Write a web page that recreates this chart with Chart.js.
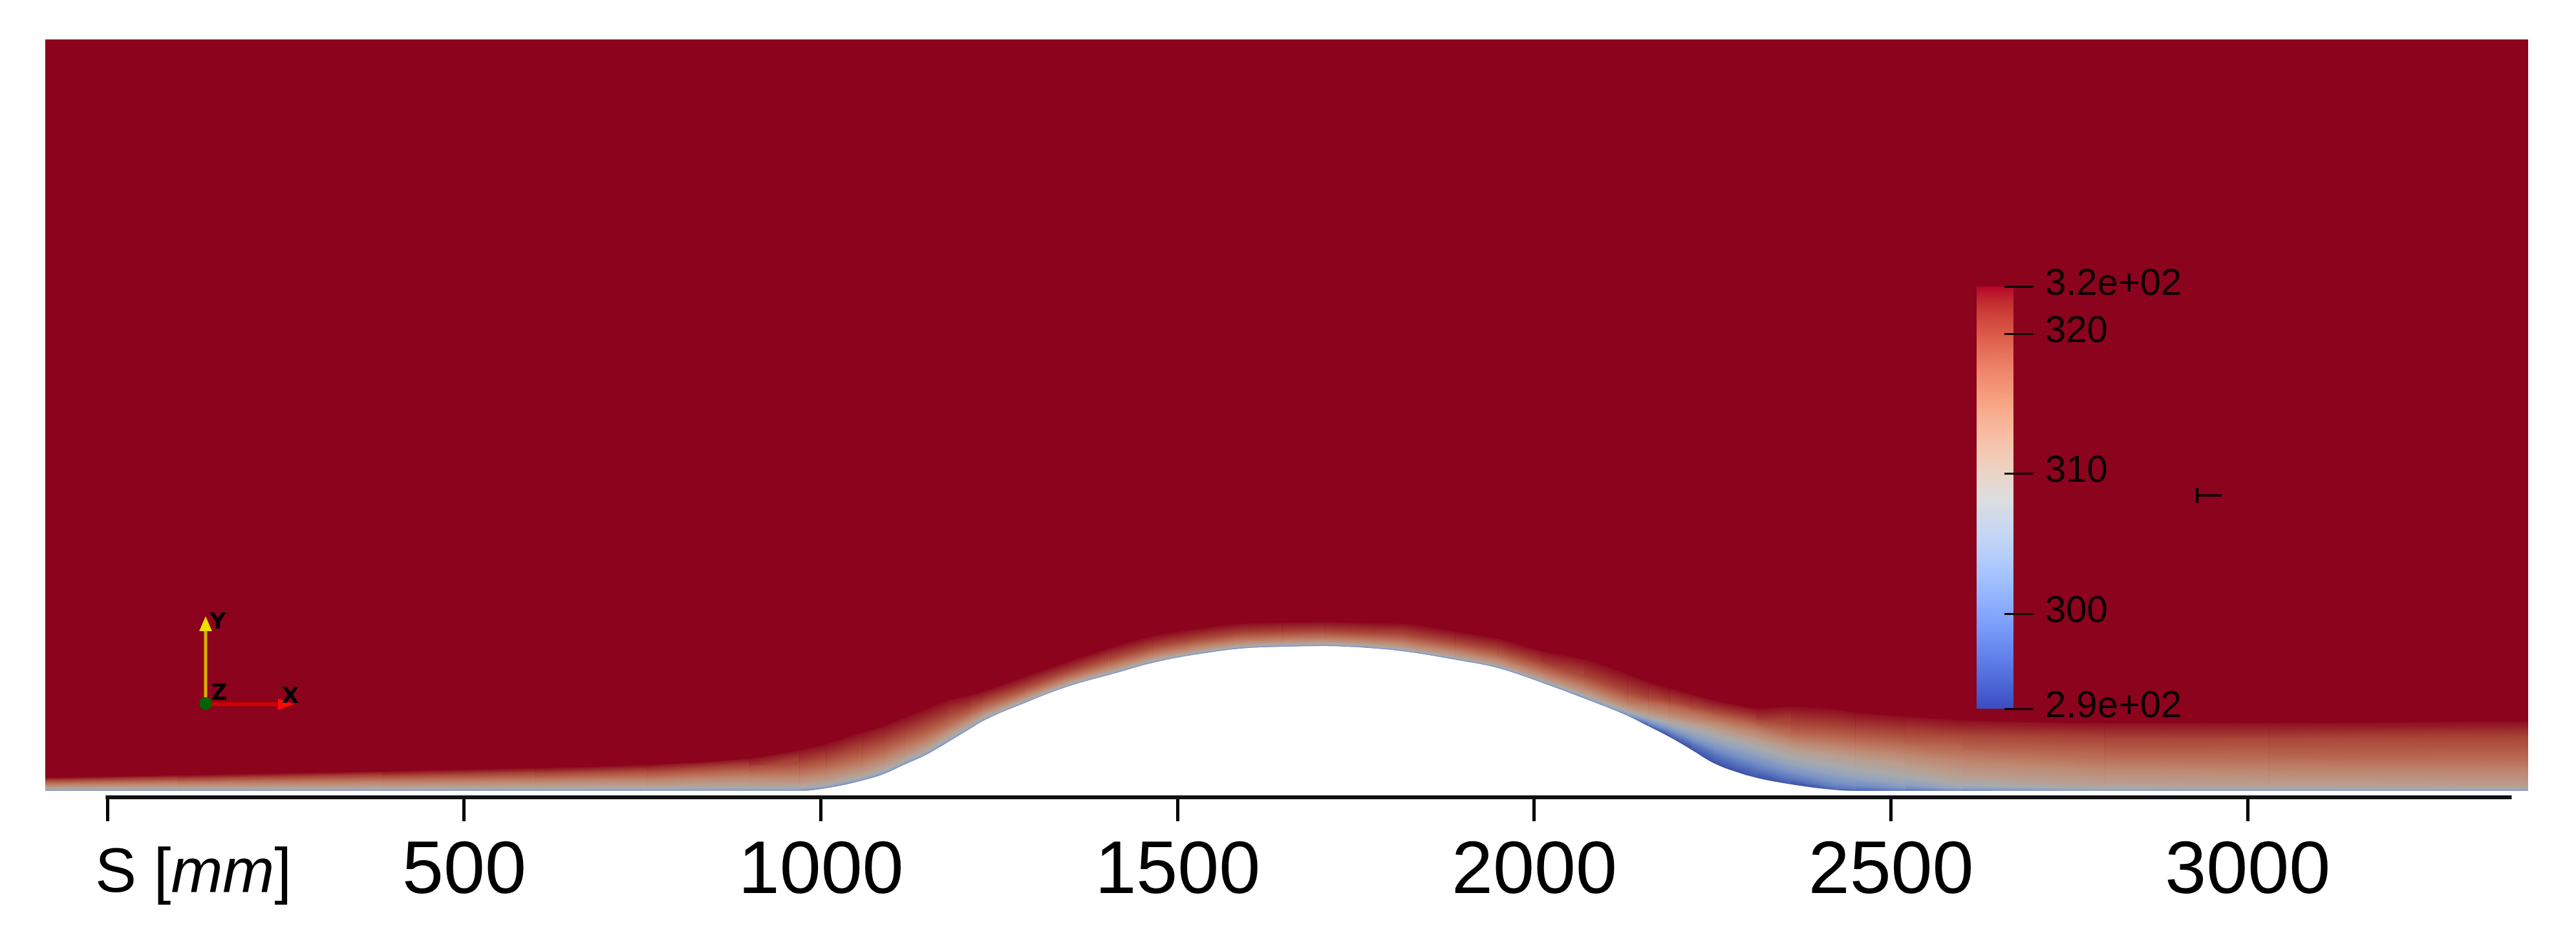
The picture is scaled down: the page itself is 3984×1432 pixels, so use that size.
<!DOCTYPE html>
<html><head><meta charset="utf-8">
<script src="https://cdn.jsdelivr.net/npm/chart.js@4.4.1/dist/chart.umd.min.js"></script>
<style>html,body{margin:0;padding:0;background:#fff;}canvas{display:block;}</style>
</head><body>
<canvas id="c" width="3984" height="1432"></canvas>
<script>
// ================= DATA =================
// Stations along the wall, S in mm
const stations = [-100,100,384,600,756,900,970,1007,1058,1088,1118,1148,1179,1209,1227,1286,1345,1406,1465,1526,1587,1647,1707,1768,1816,1889,1949,2009,2070,2131,2160,2190,2221,2251,2281,2312,2360,2426,2450,2520,2600,2800,3030,3410];
// Wall (hill) height at each station, mm
const wallHeight = [0,0,0,0,0,0,0,3.6,14.5,23.6,37.2,50.8,68.9,87.0,97.9,123.3,145.9,163.1,179.5,191.2,199.4,202.1,203.0,200.3,195.8,184.0,172.2,152.3,129.6,105.1,90.6,75.2,57.1,39.0,27.2,18.1,9.1,0.9,0,0,0,0,0,0];
// Isotherm levels (K) and their height above the wall at each station (mm)
const isoLevels = [296,299,302,305,308,311,314,317,320,323];
const iso296 = [0,0,0,0,0,0,0,0,0,0, 0,0,0,0,0,0,0,0,0,0, 0,0,0,0,0,0,0,0,0,0, 0.5,1.4,2.2,2.8,2.9,2,1,0,0,0, 0,0,0,0];
const iso299 = [0,0,0,0,0,0,0,0,0,0, 0,0,0,0,0,0,0,0,0,0, 0,0,0,0,0,0,0,0,0,0, 2.4,5.8,9.9,14,13.8,12.9,7.9,3.1,2,0.5, 0,0,0,0];
const iso302 = [0,0,0,0,0,0,0,0,0,0, 0,0,0,0,0,0,0,0,0,0, 0.45,0.45,0.45,0.45,0.45,0.45,0.45,0.45,0.45,0.9, 5.4,9.8,14.9,21,22.8,21.9,16.9,10.1,8,3.5, 0.9,0,0,0];
const iso305 = [1.4,1.4,1.4,1.4,1.4,1.4,1.8,1.8,1.8,1.8, 1.8,1.8,1.8,1.8,1.8,1.4,1.4,1.4,1.4,1.4, 1.4,1.4,1.4,1.4,1.4,1.4,1.4,1.4,1.8,2.7, 8.9,14.8,21.9,30,32.8,32.9,26.9,21.1,18,9, 3,1.4,1.4,1.4];
const iso308 = [2.3,2.3,2.7,3.2,3.6,4.1,4,4,4,4, 4,4,4,3.4,3.2,2.7,2.7,2.7,2.7,2.7, 2.7,2.7,2.7,2.7,2.7,2.7,2.7,2.7,3.6,5.4, 12.4,19.8,28.9,39,42.8,42.9,36.9,33.1,30,20, 8,3.2,2.7,2.7];
const iso311 = [4.1,4.5,5.4,6.3,7.2,9.1,9,9.5,10,10, 9.5,9,8.5,7.5,7,5.4,5,5,5,4.5, 4.5,4.5,4.5,4.5,4.5,4.5,4.5,4.5,6.3,9.1, 16.4,24.8,36.9,48,51.8,53.4,48.9,47.1,45,35, 20,10,8,7];
const iso314 = [7.7,9.1,10.9,12.7,14.5,18.1,18,19,20,20, 19,18,16.5,14,12,9.5,9,9.6,9.6,9.2, 9,8.7,8.7,9,10,10.2,10.6,11.3,13.5,15.4, 23.4,31.8,42.9,56,61.3,63.4,59.9,59.8,57.9,50.7, 39.9,30,27,25];
const iso317 = [10.9,13.1,15.9,18.1,20.8,26.3,28,30,31,31, 30,28,25,21,18.5,15,14.5,15.5,15.5,15, 14.5,14,14,14.5,16,16.5,17,18,21.5,23.6, 32.9,42.8,54.4,65.2,69.8,73.4,70.7,72.5,70.7,65.2, 58,48,46,45];
const iso320 = [14.5,17.2,21.3,24.5,28.1,35.3,40,43,46,46, 44,42,38,31,27.5,22.5,21.5,23,23,22, 21.5,21,21,21.5,24,24.5,25.5,27.5,32,34.4, 40.8,50.7,61.6,73.4,79.7,82.4,85.2,88.8,87,81.5, 78,73,74,75];
const iso323 = [18.1,21.7,27.2,31.7,36.2,45.3,57.1,61.6,67,67, 65.3,63.4,58,47,41,36.2,34.4,37.1,37.1,35.3, 34.4,33.5,33.5,34.4,38.1,39,40.8,43.5,54.4,58, 61.6,68,77.9,87.9,93.3,97,108.7,112.3,109.6,104.2, 98.8,95,95,97];
const wallT = 295;          // coldest wall value (lee side)
const freestreamT = 323.37; // outer flow
// Axis
const xTicks = [0,500,1000,1500,2000,2500,3000];
const xTickLabels = ['','500','1000','1500','2000','2500','3000'];
const axisExtent = [0,3370];
// Colour bar
const cbRange = [293.21,323.37];
const cbTickValues = [323.37,320,310,300,293.21];
const cbTickLabels = ['3.2e+02','320','310','300','2.9e+02'];
const cbTitle = 'T';

// ================= STYLE =================
const XMIN = -87.28, XMAX = 3393.1, YMIN = -6.34, YMAX = 1053.1;
const SHADE = 0.77;
const CW = [[59,76,192],[68,90,204],[77,104,215],[87,117,225],[98,130,234],[108,142,241],[119,154,247],[130,165,251],[141,176,254],[152,185,255],[163,194,255],[174,201,253],[184,208,249],[194,213,244],[204,217,238],[213,219,230],[221,221,221],[229,216,209],[236,211,197],[241,204,185],[245,196,173],[247,187,160],[247,177,148],[247,166,135],[244,154,123],[241,141,111],[236,127,99],[229,112,88],[222,96,77],[213,80,66],[203,62,56],[192,40,47],[180,4,38]];
function cmap(T){
  let t=(T-cbRange[0])/(cbRange[1]-cbRange[0]); t=Math.max(0,Math.min(1,t));
  const f=t*(CW.length-1); const i=Math.min(CW.length-2,Math.floor(f)); const r=f-i;
  return CW[i].map((c,k)=>c+(CW[i+1][k]-c)*r);
}
function rgb(a,s){s=s||1;return 'rgb('+a.map(v=>Math.round(v*s)).join(',')+')';}
function fieldColor(T){return rgb(cmap(T),SHADE);}

const COPIES = 2; // each isotherm fill is laid twice to close anti-aliased seams
const lowerIndex = k => k===0 ? 0 : 1 + COPIES*(k-1);

// Per-segment gradient: colour of this isotherm at the line, colour of the
// next lower isotherm at that line (measured along the local normal).
function bandFill(k){
  const upper=fieldColor(isoLevels[k]);
  const lower=fieldColor(k===0?wallT:isoLevels[k-1]);
  return (sc)=>{
    const chart=sc.chart, p0=sc.p0, p1=sc.p1;
    const lo=chart.getDatasetMeta(lowerIndex(k)).data;
    const q0=lo[sc.p0DataIndex], q1=lo[sc.p1DataIndex];
    if(!p0||!p1||!q0||!q1) return upper;
    let ux=p1.x-p0.x, uy=p1.y-p0.y; const len=Math.hypot(ux,uy)||1; ux/=len; uy/=len;
    let nx=-uy, ny=ux; if(ny<0){nx=-nx;ny=-ny;}
    const ax=(p0.x+p1.x)/2, ay=(p0.y+p1.y)/2;
    const bx=(q0.x+q1.x)/2, by=(q0.y+q1.y)/2;
    let d=(bx-ax)*nx+(by-ay)*ny; if(!(d>0.6)) d=0.6;
    const g=chart.ctx.createLinearGradient(ax,ay,ax+nx*d,ay+ny*d);
    g.addColorStop(0,upper); g.addColorStop(1,lower);
    return g;
  };
}

const isoOffsets=[iso296,iso299,iso302,iso305,iso308,iso311,iso314,iso317,iso320,iso323];
const datasets=[{
  label:'wall', data:stations.map((x,i)=>({x,y:wallHeight[i]})),
  fill:'start', backgroundColor:'#ffffff', borderWidth:0, borderColor:'rgba(0,0,0,0)', pointRadius:0,
  cubicInterpolationMode:'monotone'
}];
isoLevels.forEach((L,k)=>{
  const off=isoOffsets[k];
  for(let c=0;c<COPIES;c++){
    datasets.push({
      label:'T = '+L+' K', data:stations.map((x,i)=>({x,y:wallHeight[i]+off[i]})),
      fill:'start', backgroundColor:fieldColor(L), borderWidth:0, borderColor:'rgba(0,0,0,0)', pointRadius:0,
      cubicInterpolationMode:'monotone',
      segment:{backgroundColor:bandFill(k)}
    });
  }
});

const fieldPlugin={
  id:'field',
  beforeDatasetsDraw(chart){
    const {ctx,chartArea:a}=chart;
    ctx.save(); ctx.fillStyle=fieldColor(freestreamT);
    ctx.fillRect(a.left,a.top,a.right-a.left,a.bottom-a.top); ctx.restore();
  },
  afterDatasetsDraw(chart){
    const ctx=chart.ctx;
    // colour bar
    const cb={left:3057,right:3114,top:443,bottom:1096};
    const yOf=T=>cb.bottom-(T-cbRange[0])/(cbRange[1]-cbRange[0])*(cb.bottom-cb.top);
    const g=ctx.createLinearGradient(0,cb.bottom,0,cb.top);
    CW.forEach((c,i)=>g.addColorStop(i/(CW.length-1),rgb(c)));
    ctx.save();
    ctx.fillStyle=g; ctx.fillRect(cb.left,cb.top,cb.right-cb.left,cb.bottom-cb.top);
    ctx.strokeStyle='#0a0000'; ctx.lineWidth=3;
    ctx.fillStyle='#0a0000'; ctx.font='58px "Liberation Sans", Arial, sans-serif';
    ctx.textBaseline='alphabetic'; ctx.textAlign='left';
    cbTickValues.forEach((v,i)=>{
      const y=Math.round(yOf(v));
      ctx.beginPath(); ctx.moveTo(3100,y+0.5); ctx.lineTo(3145,y+0.5); ctx.stroke();
      ctx.fillText(cbTickLabels[i],3163,y+13);
    });
    ctx.translate(3420,766); ctx.rotate(-Math.PI/2); ctx.scale(0.7,1);
    ctx.textAlign='center'; ctx.textBaseline='middle';
    ctx.fillText(cbTitle,0,0);
    ctx.restore();
    // orientation triad
    ctx.save();
    const ox=318, oy=1088;
    ctx.lineCap='butt';
    ctx.strokeStyle='rgb(215,175,0)'; ctx.lineWidth=5;
    ctx.beginPath(); ctx.moveTo(ox,oy); ctx.lineTo(ox,974); ctx.stroke();
    ctx.fillStyle='rgb(235,225,0)';
    ctx.beginPath(); ctx.moveTo(ox,953); ctx.lineTo(ox-10,976); ctx.lineTo(ox+10,976); ctx.closePath(); ctx.fill();
    ctx.strokeStyle='rgb(205,0,0)'; ctx.lineWidth=6;
    ctx.beginPath(); ctx.moveTo(ox,oy+1); ctx.lineTo(432,oy+1); ctx.stroke();
    ctx.fillStyle='rgb(255,10,10)';
    ctx.beginPath(); ctx.moveTo(455,oy+1); ctx.lineTo(430,oy-8); ctx.lineTo(430,oy+10); ctx.closePath(); ctx.fill();
    ctx.fillStyle='rgb(0,100,0)';
    ctx.beginPath(); ctx.arc(ox,oy,10,0,Math.PI*2); ctx.fill();
    ctx.fillStyle='#000'; ctx.font='bold 34px "DejaVu Sans", sans-serif';
    ctx.textAlign='center'; ctx.textBaseline='middle';
    ctx.fillText('Y',337,963); ctx.fillText('Z',339,1073); ctx.fillText('X',449,1078);
    ctx.restore();
  },
  afterDraw(chart){
    const ctx=chart.ctx, xs=chart.scales.x;
    const x0=xs.getPixelForValue(axisExtent[0]), x1=xs.getPixelForValue(axisExtent[1]);
    ctx.save();
    ctx.fillStyle='#111'; ctx.fillRect(x0-3,1230,x1-(x0-3),6);
    let x=147; const base=1379;
    ctx.fillStyle='#000'; ctx.textBaseline='alphabetic'; ctx.textAlign='left';
    ctx.font='96px "Liberation Sans", Arial, sans-serif';
    ctx.fillText('S [',x,base); x+=ctx.measureText('S [').width;
    ctx.font='italic 96px "Liberation Sans", Arial, sans-serif';
    ctx.fillText('mm',x,base); x+=ctx.measureText('mm').width;
    ctx.font='96px "Liberation Sans", Arial, sans-serif';
    ctx.fillText(']',x,base);
    ctx.restore();
  }
};

new Chart(document.getElementById('c'),{
  type:'line',
  data:{datasets},
  plugins:[fieldPlugin],
  options:{
    responsive:false, devicePixelRatio:1, animation:false, events:[],
    layout:{padding:{left:70,right:74,top:61,bottom:0}},
    plugins:{legend:{display:false},tooltip:{enabled:false},filler:{propagate:false}},
    elements:{point:{radius:0}},
    scales:{
      x:{type:'linear',position:'bottom',min:XMIN,max:XMAX,
        afterBuildTicks:s=>{s.ticks=xTicks.map(v=>({value:v}));},
        afterFit:s=>{s.height=202;},
        border:{display:false},
        grid:{drawOnChartArea:false,drawTicks:true,tickLength:40,tickWidth:5,lineWidth:5,color:'#000',tickColor:'#000'},
        ticks:{autoSkip:false,maxRotation:0,minRotation:0,padding:10,color:'#000',
          font:{family:'"Liberation Sans", Arial, sans-serif',size:115},
          callback:(v,i)=>xTickLabels[i]}
      },
      y:{type:'linear',display:false,min:YMIN,max:YMAX}
    }
  }
});
</script>
</body></html>
